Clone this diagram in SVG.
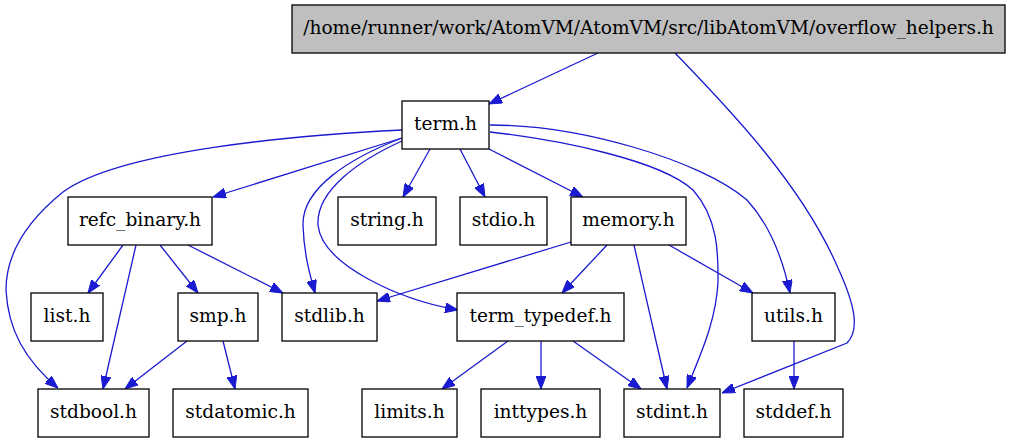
<svg xmlns="http://www.w3.org/2000/svg" width="1010" height="443" viewBox="0 0 1010 443">
<style>
.n rect{fill:#ffffff;stroke:#000000;stroke-width:1.3}
.n text{font-family:"DejaVu Serif",serif;font-size:18.6px;text-anchor:middle;fill:#000000}
#edges path{fill:none;stroke:#1a1ad0;stroke-width:1.3;marker-end:url(#ah)}
</style>
<defs>
<marker id="ah" markerUnits="userSpaceOnUse" viewBox="0 0 13 10" markerWidth="13" markerHeight="10" refX="13" refY="5" orient="auto">
<path d="M0,0 L13,5 L0,10 z" fill="#1a1ad0" stroke="#1a1ad0" stroke-width="1"/>
</marker>
</defs>
<rect width="1010" height="443" fill="#ffffff"/>
<g id="edges">
<path d="M598,53 L489,104"/>
<path d="M675,53 C720,100 800,180 838,268 C855,305 860,330 847,343 L722,393"/>
<path d="M402,130 C300,135 120,150 63,192 C22,225 6,258 6,290 C8,330 25,360 58,388"/>
<path d="M402,138 L213,197"/>
<path d="M402,138 C350,158 302,188 303,225 C304,255 310,275 315,293"/>
<path d="M402,141 C360,160 316,190 318,225 C322,265 400,300 458,310"/>
<path d="M430,149 L403,197"/>
<path d="M460,149 L485,197"/>
<path d="M489,149 L583,197"/>
<path d="M490,132 C560,140 660,160 693,190 C720,220 718,260 718,282 C716,322 700,355 687,388"/>
<path d="M490,125 C580,125 700,160 747,200 C770,225 783,260 790,293"/>
<path d="M123,245 L88,293"/>
<path d="M136,245 L103,389"/>
<path d="M160,245 L198,293"/>
<path d="M188,245 L283,293"/>
<path d="M187,341 L125,389"/>
<path d="M223,341 L235,389"/>
<path d="M571,242 L377,301"/>
<path d="M607,245 L562,293"/>
<path d="M634,245 L667,389"/>
<path d="M669,245 L753,293"/>
<path d="M508,341 L442,389"/>
<path d="M541,341 L541,389"/>
<path d="M573,341 L641,389"/>
<path d="M794,341 L794,389"/>
</g>
<g id="node_overflow_helpers" class="n"><rect x="292" y="5" width="713" height="48" style="fill:#bfbfbf"/><text x="648.5" y="34">/home/runner/work/AtomVM/AtomVM/src/libAtomVM/overflow_helpers.h</text></g>
<g id="node_term" class="n"><rect x="402" y="101" width="87" height="48"/><text x="445.5" y="130">term.h</text></g>
<g id="node_refc_binary" class="n"><rect x="68" y="197" width="144" height="48"/><text x="140" y="226">refc_binary.h</text></g>
<g id="node_string" class="n"><rect x="338" y="197" width="98" height="48"/><text x="387" y="226">string.h</text></g>
<g id="node_stdio" class="n"><rect x="460" y="197" width="87" height="48"/><text x="503.5" y="226">stdio.h</text></g>
<g id="node_memory" class="n"><rect x="571" y="197" width="115" height="48"/><text x="628.5" y="226">memory.h</text></g>
<g id="node_list" class="n"><rect x="31" y="293" width="72" height="48"/><text x="67" y="322">list.h</text></g>
<g id="node_smp" class="n"><rect x="178" y="293" width="80" height="48"/><text x="218" y="322">smp.h</text></g>
<g id="node_stdlib" class="n"><rect x="282" y="293" width="95" height="48"/><text x="329.5" y="322">stdlib.h</text></g>
<g id="node_term_typedef" class="n"><rect x="457" y="293" width="167" height="48"/><text x="540.5" y="322">term_typedef.h</text></g>
<g id="node_utils" class="n"><rect x="752" y="293" width="83" height="48"/><text x="793.5" y="322">utils.h</text></g>
<g id="node_stdbool" class="n"><rect x="38" y="389" width="111" height="48"/><text x="93.5" y="418">stdbool.h</text></g>
<g id="node_stdatomic" class="n"><rect x="173" y="389" width="135" height="48"/><text x="240.5" y="418">stdatomic.h</text></g>
<g id="node_limits" class="n"><rect x="362" y="389" width="95" height="48"/><text x="409.5" y="418">limits.h</text></g>
<g id="node_inttypes" class="n"><rect x="481" y="389" width="119" height="48"/><text x="540.5" y="418">inttypes.h</text></g>
<g id="node_stdint" class="n"><rect x="624" y="389" width="96" height="48"/><text x="672" y="418">stdint.h</text></g>
<g id="node_stddef" class="n"><rect x="744" y="389" width="99" height="48"/><text x="793.5" y="418">stddef.h</text></g>
</svg>
